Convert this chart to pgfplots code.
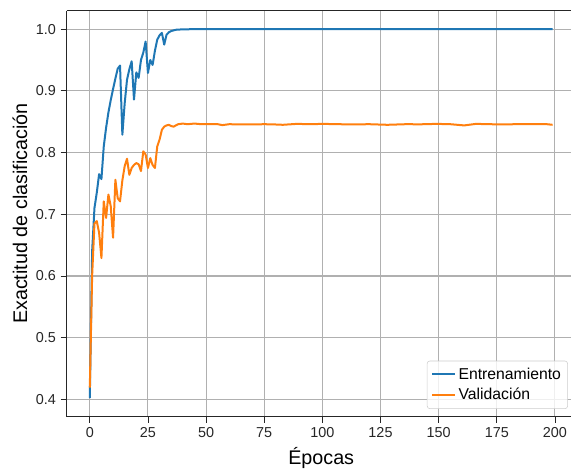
\documentclass[border=0pt]{standalone}
\usepackage{fontspec}
\setmainfont{Liberation Sans}
\usepackage{pgfplots}
\pgfplotsset{compat=1.18}
\definecolor{mplblue}{HTML}{1F77B4}
\definecolor{mplorange}{HTML}{FF7F0E}
\definecolor{gridgray}{HTML}{B0B0B0}
\begin{document}
\begin{tikzpicture}
\begin{axis}[
  at={(50pt,40pt)}, anchor=south west,
  scale only axis, width=381.8pt, height=304.5pt,
  xmin=-9.95, xmax=208.95, ymin=0.372, ymax=1.030,
  axis x line*=box, axis y line*=left,
  xtick={0,25,50,75,100,125,150,175,200},
  ytick={0.4,0.5,0.6,0.7,0.8,0.9,1.0},
  /pgf/number format/assume math mode=true,
  yticklabel style={/pgf/number format/.cd, fixed, fixed zerofill, precision=1},
  xticklabel style={/pgf/number format/.cd, fixed, precision=0},
  tick label style={font=\fontsize{10.8}{12}\selectfont, text=black!85},
  tick align=outside, major tick length=4.5pt,
  tick style={black!85, line width=0.6pt},
  xtick pos=bottom, ytick pos=left,
  grid=major, major grid style={gridgray, line width=0.8pt},
  axis line style={black!85, line width=0.6pt},
  xlabel={Épocas}, ylabel={Exactitud de clasificación},
  label style={font=\fontsize{14.8}{16}\selectfont},
  xlabel style={at={(axis description cs:0.5,-0.102)}, anchor=center},
  ylabel style={at={(axis description cs:-0.092,0.5)}, anchor=center, rotate=0},
  legend style={at={(1,0)}, anchor=south east, xshift=-5.9pt, yshift=5.8pt,
    draw=black!20, rounded corners=2pt, fill=white, fill opacity=0.8, text opacity=1,
    font=\fontsize{11.8}{13}\selectfont, row sep=1.5pt, inner sep=3pt},
  legend cell align=left,
  legend image post style={line width=1.5pt},
  every axis plot/.append style={line width=1.5pt, line join=round},
]
\addplot[mplblue] coordinates {
(0,0.402) (1,0.640) (2,0.710) (3,0.735) (4,0.765) (5,0.757) (6,0.810) (7,0.840)
(8,0.865) (9,0.885) (10,0.903) (11,0.920) (12,0.936) (13,0.941) (14,0.829) (15,0.880)
(16,0.918) (17,0.935) (18,0.948) (19,0.886) (20,0.930) (21,0.921) (22,0.950) (23,0.962)
(24,0.980) (25,0.929) (26,0.950) (27,0.942) (28,0.965) (29,0.983) (30,0.990) (31,0.994)
(32,0.975) (33,0.991) (34,0.995) (35,0.997) (36,0.998) (37,0.999) (38,0.9993) (40,0.9997)
(45,1.0) (60,1.0) (100,1.0) (150,1.0) (199,1.0)
};
\addlegendentry{Entrenamiento}
\addplot[mplorange] coordinates {
(0,0.419) (1,0.600) (2,0.685) (3,0.689) (4,0.670) (5,0.629) (6,0.721) (7,0.694)
(8,0.732) (9,0.713) (10,0.662) (11,0.756) (12,0.726) (13,0.721) (14,0.755) (15,0.778)
(16,0.790) (17,0.764) (18,0.775) (19,0.780) (20,0.783) (21,0.781) (22,0.770) (23,0.802)
(24,0.797) (25,0.775) (26,0.791) (27,0.780) (28,0.775) (29,0.810) (30,0.821) (31,0.837)
(32,0.842) (33,0.844) (34,0.845) (35,0.843) (36,0.842) (38,0.846) (40,0.847) (42,0.846)
(45,0.847) (48,0.846) (52,0.846) (55,0.846) (57,0.8445) (60,0.846) (65,0.8455) (70,0.8455)
(75,0.846) (80,0.8455) (83,0.845) (89,0.8465) (95,0.846) (100,0.8465) (107,0.846) (113,0.8455)
(120,0.846) (128,0.845) (136,0.846) (142,0.8458) (149,0.8465) (155,0.846) (161,0.844) (166,0.8465)
(172,0.846) (177,0.8455) (183,0.846) (191,0.846) (196,0.8462) (199,0.845)
};
\addlegendentry{Validación}
\end{axis}
\pgfresetboundingbox
\useasboundingbox (0,0) rectangle (428.25pt,352.5pt);
\end{tikzpicture}
\end{document}
